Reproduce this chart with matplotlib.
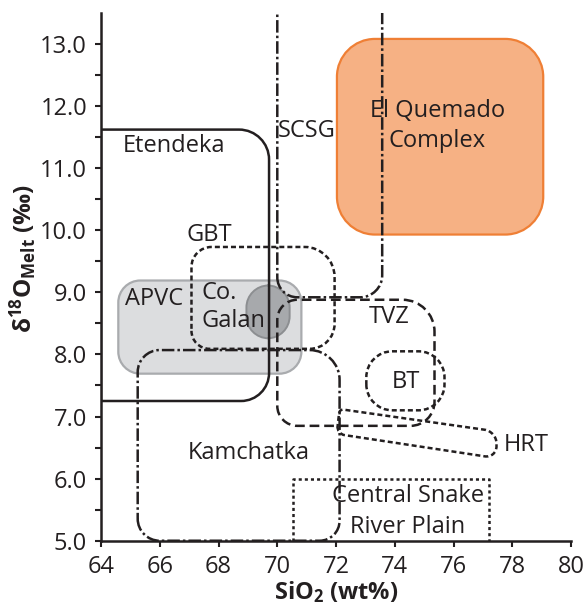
import numpy as np
import matplotlib.pyplot as plt
from matplotlib.path import Path
from matplotlib.patches import PathPatch

plt.rcParams['font.family'] = ['Open Sans', 'DejaVu Sans']
plt.rcParams['mathtext.fontset'] = 'custom'
plt.rcParams['mathtext.rm'] = 'Open Sans'
plt.rcParams['mathtext.bf'] = 'Open Sans:bold'
plt.rcParams['mathtext.it'] = 'Open Sans:italic'
plt.rcParams['lines.scale_dashes'] = False

INK = '#231f20'

# Field extents: [SiO2 min, SiO2 max, d18O min, d18O max]
etendeka = [64.0, 69.72, 7.25, 11.62]
scsg = [70.0, 73.57, 8.92, 14.0]
tvz = [70.0, 75.35, 6.85, 8.88]
kamchatka = [65.25, 72.12, 5.0, 8.07]
gbt = [67.08, 71.95, 8.09, 9.73]
bt = [73.03, 75.69, 7.10, 8.05]
csrp = [70.53, 77.22, 5.0, 6.0]
apvc = [64.59, 70.82, 7.69, 9.19]
co_galan = [68.95, 70.42, 8.26, 9.11]
el_quemado = [72.03, 79.05, 9.93, 13.08]

# HRT field is a tilted box: corners (SiO2, d18O)
hrt_x = [72.02, 77.46, 77.46, 72.12]
hrt_y = [6.72, 6.33, 6.76, 7.12]

x_ticks = [64, 66, 68, 70, 72, 74, 76, 78, 80]
y_ticks = [5.0, 6.0, 7.0, 8.0, 9.0, 10.0, 11.0, 12.0, 13.0]

fig = plt.figure(figsize=(5.87, 6.11), dpi=100)
ax = fig.add_axes([0.172, 0.115, 0.801, 0.864])
ax.set_xlim(64, 80)
ax.set_ylim(5.0, 13.5)


def rounded(xs, ys, radii):
    """Closed outline through the corners, each corner rounded by a radius in pixels."""
    pts = ax.transData.transform(np.column_stack([xs, ys]))
    n = len(pts)
    k = 0.5523
    verts, codes = [], []
    for i in range(n):
        p, prev, nxt = pts[i], pts[i - 1], pts[(i + 1) % n]
        r = radii[i]
        d1 = (prev - p) / np.hypot(*(prev - p))
        d2 = (nxt - p) / np.hypot(*(nxt - p))
        a, b = p + d1 * r, p + d2 * r
        verts.append(a)
        codes.append(Path.MOVETO if i == 0 else Path.LINETO)
        verts += [a + (p - a) * k, b + (p - b) * k, b]
        codes += [Path.CURVE4] * 3
    verts.append(verts[0])
    codes.append(Path.CLOSEPOLY)
    return Path(ax.transData.inverted().transform(np.array(verts)), codes)


def box(ext, radii):
    x0, x1, y0, y1 = ext
    return rounded([x0, x1, x1, x0], [y0, y0, y1, y1], radii)


def add(path, z=3, **kw):
    ax.add_patch(PathPatch(path, zorder=z, **kw))


# filled fields
add(box(el_quemado, [38] * 4), z=1, facecolor='#f6b184', edgecolor='#ef7f35', lw=1.6)
add(box(apvc, [22] * 4), z=1, facecolor='#dcdddf', edgecolor='#a9abae', lw=1.6)
add(box(co_galan, [22] * 4), z=1.5, facecolor='#a7a9ac', edgecolor='#8c8e91', lw=1.4)

# outlined fields
dash_dot = (0, (9, 2.2, 1.8, 2.2))
add(box(etendeka, [0, 28, 30, 0]), fill=False, edgecolor=INK, lw=1.8)
add(box(scsg, [20, 22, 0, 0]), fill=False, edgecolor=INK, lw=1.8, linestyle=dash_dot)
add(box(kamchatka, [22, 20, 30, 22]), fill=False, edgecolor=INK, lw=1.8, linestyle=dash_dot)
add(box(tvz, [20, 24, 32, 20]), fill=False, edgecolor=INK, lw=1.8, linestyle=(0, (7, 3.5)))
add(box(gbt, [18, 25, 30, 20]), fill=False, edgecolor=INK, lw=1.8, linestyle=(0, (3.6, 2.2)))
add(box(bt, [26] * 4), fill=False, edgecolor=INK, lw=1.8, linestyle=(0, (3.6, 2.2)))
add(rounded(hrt_x, hrt_y, [8, 12, 12, 4]), fill=False, edgecolor=INK, lw=1.8,
    linestyle=(0, (3.6, 2.2)))
ax.plot([csrp[0], csrp[0], csrp[1], csrp[1]], [csrp[2], csrp[3], csrp[3], csrp[2]],
        color=INK, lw=1.8, linestyle=(0, (2.2, 2.2)), zorder=3, clip_on=False)

# field names
fs = 17
ax.text(66.48, 11.35, 'Etendeka', fontsize=fs, color=INK, ha='center', va='center')
ax.text(71.0, 11.6, 'SCSG', fontsize=fs, color=INK, ha='center', va='center')
ax.text(75.45, 11.68, 'El Quemado\nComplex', fontsize=fs, color=INK,
        ha='center', va='center', linespacing=1.3)
ax.text(67.67, 9.92, 'GBT', fontsize=fs, color=INK, ha='center', va='center')
ax.text(65.79, 8.9, 'APVC', fontsize=fs, color=INK, ha='center', va='center')
ax.text(67.43, 8.76, 'Co.\nGalan', fontsize=fs, color=INK, ha='left', va='center',
        linespacing=1.25)
ax.text(73.79, 8.6, 'TVZ', fontsize=fs, color=INK, ha='center', va='center')
ax.text(74.39, 7.56, 'BT', fontsize=fs, color=INK, ha='center', va='center')
ax.text(78.46, 6.54, 'HRT', fontsize=fs, color=INK, ha='center', va='center')
ax.text(69.03, 6.41, 'Kamchatka', fontsize=fs, color=INK, ha='center', va='center')
ax.text(74.45, 5.47, 'Central Snake\nRiver Plain', fontsize=fs, color=INK,
        ha='center', va='center', linespacing=1.35)

# axes styling
for side in ['top', 'right']:
    ax.spines[side].set_visible(False)
for side in ['left', 'bottom']:
    ax.spines[side].set_linewidth(1.8)
    ax.spines[side].set_color(INK)

ax.set_xticks(x_ticks)
ax.set_xticklabels([str(v) for v in x_ticks])
ax.set_yticks(y_ticks)
ax.set_yticklabels([f'{v:.1f}' for v in y_ticks])
ax.set_yticks(np.arange(5.5, 13.5, 1.0), minor=True)
ax.tick_params(axis='both', labelsize=fs, colors=INK, width=1.5, length=4)
ax.tick_params(axis='y', which='minor', width=1.5, length=4, colors=INK)
ax.tick_params(axis='x', pad=6)
ax.tick_params(axis='y', pad=6)

ax.set_xlabel(r'SiO$_\mathbf{2}$ (wt%)', fontsize=17, fontweight='bold', color=INK)
ax.set_ylabel(r'$\mathbf{\delta^{18}O_{Melt}}$ (‰)', fontsize=17.5, fontweight='bold',
              color=INK)
ax.xaxis.set_label_coords(0.5, -0.072)
ax.yaxis.set_label_coords(-0.132, 0.535)

fig.savefig('out.png', dpi=100)
